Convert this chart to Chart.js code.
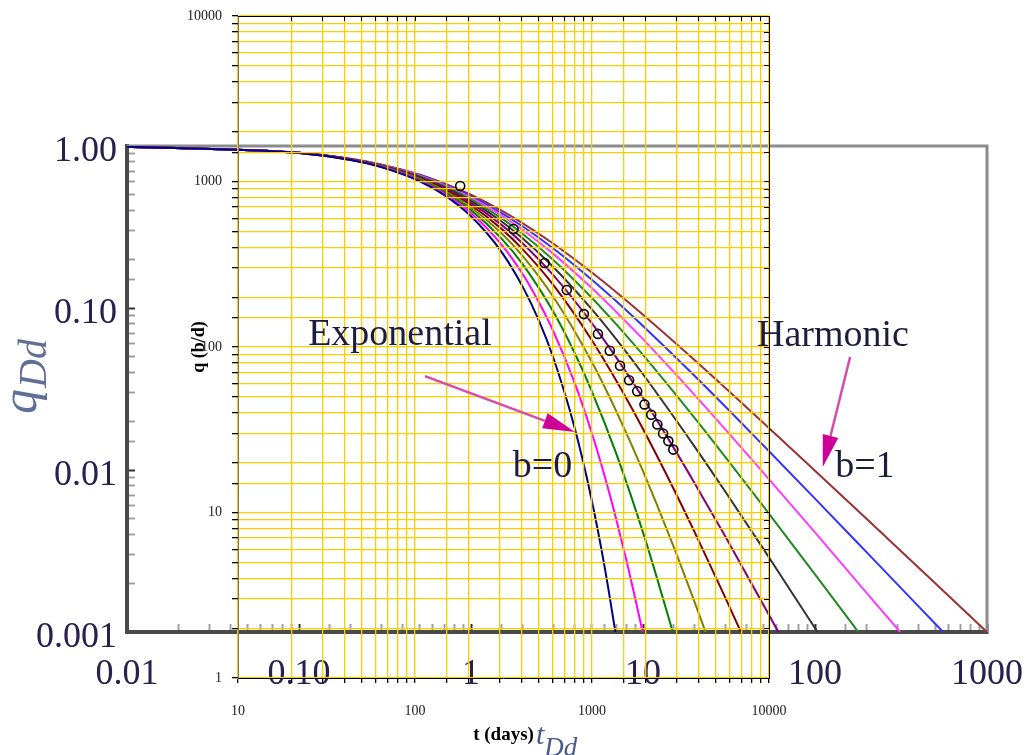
<!DOCTYPE html>
<html>
<head>
<meta charset="utf-8">
<title>Arps decline type curves</title>
<script src="https://cdn.jsdelivr.net/npm/chart.js@4.4.1/dist/chart.umd.min.js"></script>
<style>
  html, body { margin: 0; padding: 0; background: #fff; overflow: hidden; }
  #wrap { position: relative; width: 1030px; height: 755px; }
  #wrap canvas { position: absolute; left: 0; top: 0; }
</style>
</head>
<body>
<div id="wrap">
  <canvas id="typeCurveChart" width="1030" height="755"></canvas>
  <canvas id="wellDataChart" width="1030" height="755"></canvas>
</div>
<script>
// ---- type curves (dimensionless tDd vs qDd) ----
const bValues = [0, 0.1, 0.2, 0.3, 0.4, 0.5, 0.6, 0.7, 0.8, 0.9, 1.0];
const curveColors = ['#000080', '#ff00ff', '#008000', '#808000', '#800000', '#800080',
                     '#333333', '#1f8a1f', '#ff3cff', '#3333ff', '#993333'];

const tDd_b00 = [0.01, 0.1, 0.2, 0.3, 0.5, 0.7, 1, 1.5, 2, 2.5, 3, 4, 5, 6, 6.91];
const qDd_b00 = [0.990, 0.905, 0.819, 0.741, 0.607, 0.497, 0.368, 0.223, 0.135, 0.0821, 0.0498, 0.0183, 0.00674, 0.00248, 0.001];
const tDd_b01 = [0.01, 0.1, 0.2, 0.3, 0.5, 0.7, 1, 1.5, 2, 2.5, 3, 4, 5, 6, 7, 8, 9, 9.95];
const qDd_b01 = [0.990, 0.905, 0.820, 0.744, 0.614, 0.508, 0.386, 0.247, 0.1615, 0.107, 0.0725, 0.0346, 0.01734, 0.00909, 0.00493, 0.00278, 0.00162, 0.001];
const tDd_b02 = [0.01, 0.1, 0.2, 0.3, 0.5, 0.7, 1, 1.5, 2, 3, 4, 5, 7, 10, 12, 14.9];
const qDd_b02 = [0.990, 0.906, 0.822, 0.747, 0.621, 0.519, 0.402, 0.269, 0.186, 0.0954, 0.0529, 0.03125, 0.01256, 0.00412, 0.00219, 0.001];
const tDd_b03 = [0.01, 0.1, 0.2, 0.3, 0.5, 0.7, 1, 1.5, 2, 3, 5, 7, 10, 15, 20, 23.1];
const qDd_b03 = [0.990, 0.906, 0.823, 0.750, 0.628, 0.530, 0.417, 0.290, 0.2088, 0.1177, 0.0472, 0.0230, 0.00984, 0.00340, 0.00152, 0.001];
const tDd_b04 = [0.01, 0.1, 0.2, 0.3, 0.5, 0.7, 1, 1.5, 2, 3, 5, 7, 10, 15, 20, 30, 37.1];
const qDd_b04 = [0.990, 0.907, 0.825, 0.753, 0.634, 0.539, 0.431, 0.309, 0.230, 0.1393, 0.0642, 0.0355, 0.01789, 0.00772, 0.00412, 0.00164, 0.001];
const tDd_b05 = [0.01, 0.1, 0.2, 0.3, 0.5, 0.7, 1, 1.5, 2, 3, 5, 7, 10, 15, 20, 30, 50, 61.2];
const qDd_b05 = [0.990, 0.907, 0.826, 0.756, 0.640, 0.549, 0.444, 0.327, 0.25, 0.16, 0.0816, 0.0494, 0.0278, 0.01384, 0.00826, 0.00391, 0.00148, 0.001];
const tDd_b06 = [0.01, 0.1, 0.2, 0.3, 0.5, 0.7, 1, 1.5, 2, 3, 5, 7, 10, 20, 30, 50, 70, 103.5];
const qDd_b06 = [0.990, 0.907, 0.828, 0.759, 0.646, 0.557, 0.457, 0.343, 0.2687, 0.1798, 0.0992, 0.0641, 0.0390, 0.0139, 0.00739, 0.00327, 0.00189, 0.001];
const tDd_b07 = [0.01, 0.1, 0.2, 0.3, 0.5, 0.7, 1, 1.5, 2, 3, 5, 7, 10, 20, 30, 50, 100, 150, 178.4];
const qDd_b07 = [0.990, 0.908, 0.829, 0.762, 0.651, 0.566, 0.469, 0.3586, 0.2863, 0.1986, 0.1166, 0.0792, 0.0513, 0.0209, 0.01208, 0.00598, 0.00227, 0.00128, 0.001];
const tDd_b08 = [0.01, 0.1, 0.2, 0.3, 0.5, 0.7, 1, 1.5, 2, 3, 5, 7, 10, 20, 50, 100, 200, 312.7];
const qDd_b08 = [0.990, 0.908, 0.831, 0.764, 0.657, 0.574, 0.480, 0.373, 0.3029, 0.2166, 0.1337, 0.0945, 0.0642, 0.0290, 0.00964, 0.00412, 0.00174, 0.001];
const tDd_b09 = [0.01, 0.1, 0.2, 0.3, 0.5, 0.7, 1, 1.5, 2, 3, 5, 7, 10, 20, 50, 100, 200, 400, 555.8];
const qDd_b09 = [0.990, 0.909, 0.832, 0.767, 0.662, 0.581, 0.490, 0.387, 0.3185, 0.2337, 0.1505, 0.1099, 0.0774, 0.0380, 0.01421, 0.00666, 0.00310, 0.00144, 0.001];
const tDd_b10 = [0.01, 0.1, 0.2, 0.3, 0.5, 0.7, 1, 1.5, 2, 3, 5, 7, 10, 20, 50, 100, 200, 500, 999];
const qDd_b10 = [0.990, 0.909, 0.833, 0.769, 0.667, 0.588, 0.5, 0.4, 0.333, 0.25, 0.1667, 0.125, 0.0909, 0.0476, 0.0196, 0.0099, 0.00498, 0.002, 0.001];

const curveT = [tDd_b00, tDd_b01, tDd_b02, tDd_b03, tDd_b04, tDd_b05, tDd_b06, tDd_b07, tDd_b08, tDd_b09, tDd_b10];
const curveQ = [qDd_b00, qDd_b01, qDd_b02, qDd_b03, qDd_b04, qDd_b05, qDd_b06, qDd_b07, qDd_b08, qDd_b09, qDd_b10];

// outer (dimensionless) axis tick labels
const tDdTickValues = [0.01, 0.1, 1, 10, 100, 1000];
const tDdTickLabels = ['0.01', '0.10', '1', '10', '100', '1000'];
const qDdTickValues = [1, 0.1, 0.01, 0.001];
const qDdTickLabels = ['1.00', '0.10', '0.01', '0.001'];

// ---- well data overlay (t in days, q in b/d) ----
const wellDays = [180, 360, 540, 720, 900, 1080, 1260, 1440, 1620, 1800, 1980, 2160, 2340, 2520, 2700, 2880];
const wellRate = [940, 516, 322, 221, 158, 120, 95, 77, 63, 54, 45, 39, 34, 30, 27, 24];
const dayTickValues = [10, 100, 1000, 10000];
const dayTickLabels = ['10', '100', '1000', '10000'];
const rateTickValues = [1, 10, 100, 1000, 10000];
const rateTickLabels = ['1', '10', '100', '1000', '10000'];

// annotations, placed in tDd / qDd units
const noteTexts = ['Exponential', 'b=0', 'Harmonic', 'b=1'];
const noteAt = [[0.113, 0.059], [1.75, 0.00905], [46, 0.0584], [131, 0.00905]];
const arrowFrom = [[0.54, 0.038], [160, 0.0498]];
const arrowTo = [[4.02, 0.01716], [111, 0.01043]];

const SERIF = "'Liberation Serif', 'DejaVu Serif', 'Times New Roman', serif";
const GRID_YELLOW = '#ffcc00';
const LABEL_INK = '#2a2050';
const ARROW_INK = '#cc0099';

function isDecade(v) {
  const l = Math.log10(v);
  return Math.abs(l - Math.round(l)) < 1e-6;
}

// returns a tick callback that only labels the listed values
function labelPicker(values, labels) {
  return (v) => {
    const i = values.findIndex(d => Math.abs(d - v) / d < 1e-6);
    return i < 0 ? '' : labels[i];
  };
}

/**
 * Gray top/right border of the type-curve frame
 */
const outerFrame = {
  id: 'outerFrame',
  beforeDatasetsDraw(chart) {
    const { ctx, chartArea: a } = chart;
    ctx.save();
    ctx.strokeStyle = '#8c8c8c';
    ctx.lineWidth = 3;
    ctx.beginPath();
    ctx.moveTo(a.left, a.top);
    ctx.lineTo(a.right, a.top);
    ctx.lineTo(a.right, a.bottom);
    ctx.stroke();
    ctx.restore();
  }
};

const typeCurveChart = new Chart(document.getElementById('typeCurveChart'), {
  type: 'line',
  data: {
    datasets: bValues.map((b, i) => ({
      label: 'b=' + b,
      data: curveT[i].map((t, k) => ({ x: t, y: curveQ[i][k] })),
      borderColor: curveColors[i],
      borderWidth: 2,
      pointRadius: 0,
      fill: false,
      cubicInterpolationMode: 'monotone'
    }))
  },
  options: {
    responsive: false,
    animation: false,
    events: [],
    layout: { padding: { left: 0, top: 146, right: 43, bottom: 0 } },
    plugins: { legend: { display: false }, tooltip: { enabled: false } },
    scales: {
      x: {
        type: 'logarithmic',
        min: 0.01,
        max: 1000,
        border: { color: '#4a4a4a', width: 4 },
        grid: {
          drawOnChartArea: false,
          tickLength: -8,
          tickWidth: 2,
          tickColor: (c) => (c.tick && isDecade(c.tick.value)) ? '#333' : '#a0a0a0'
        },
        ticks: {
          autoSkip: false,
          maxRotation: 0,
          padding: 29,
          color: LABEL_INK,
          font: { family: SERIF, size: 36 },
          callback: labelPicker(tDdTickValues, tDdTickLabels)
        },
        afterFit: (s) => { s.height = 123; s.paddingLeft = 0; s.paddingRight = 0; }
      },
      y: {
        type: 'logarithmic',
        min: 0.001,
        max: 1,
        border: { color: '#4a4a4a', width: 4 },
        grid: {
          drawOnChartArea: false,
          tickLength: -8,
          tickWidth: 2,
          tickColor: (c) => (c.tick && isDecade(c.tick.value)) ? '#333' : '#a0a0a0'
        },
        ticks: {
          autoSkip: false,
          padding: 18,
          labelOffset: 6,
          color: LABEL_INK,
          font: { family: SERIF, size: 36 },
          callback: labelPicker(qDdTickValues, qDdTickLabels)
        },
        afterFit: (s) => { s.width = 127; s.paddingTop = 0; s.paddingBottom = 0; }
      }
    }
  },
  plugins: [outerFrame]
});

function drawArrow(ctx, x1, y1, x2, y2) {
  const ang = Math.atan2(y2 - y1, x2 - x1);
  const cos = Math.cos(ang), sin = Math.sin(ang);
  const headLen = 32, headW = 8;
  const bx = x2 - headLen * cos, by = y2 - headLen * sin;
  ctx.strokeStyle = '#d64bab';
  ctx.lineWidth = 2.5;
  ctx.beginPath();
  ctx.moveTo(x1, y1);
  ctx.lineTo(bx, by);
  ctx.stroke();
  ctx.fillStyle = ARROW_INK;
  ctx.beginPath();
  ctx.moveTo(x2, y2);
  ctx.lineTo(bx + headW * sin, by - headW * cos);
  ctx.lineTo(bx - headW * sin, by + headW * cos);
  ctx.closePath();
  ctx.fill();
}

/**
 * Text notes, arrows and the dimensionless axis titles, drawn on top
 */
const annotationLayer = {
  id: 'annotationLayer',
  afterDraw(chart) {
    const ctx = chart.ctx;
    const sx = typeCurveChart.scales.x, sy = typeCurveChart.scales.y;
    ctx.save();

    arrowFrom.forEach((p, i) => {
      drawArrow(ctx, sx.getPixelForValue(p[0]), sy.getPixelForValue(p[1]),
        sx.getPixelForValue(arrowTo[i][0]), sy.getPixelForValue(arrowTo[i][1]));
    });

    ctx.fillStyle = '#1c1c3c';
    ctx.font = '38px ' + SERIF;
    ctx.textBaseline = 'alphabetic';
    ctx.textAlign = 'left';
    noteTexts.forEach((txt, i) => {
      ctx.fillText(txt, sx.getPixelForValue(noteAt[i][0]), sy.getPixelForValue(noteAt[i][1]));
    });

    // q_Dd, rotated, left of the frame
    ctx.save();
    ctx.translate(36, 414);
    ctx.rotate(-Math.PI / 2);
    ctx.fillStyle = '#5f6f96';
    ctx.font = 'italic 50px ' + SERIF;
    ctx.fillText('q', 0, 0);
    const qw = ctx.measureText('q').width;
    ctx.font = 'italic 40px ' + SERIF;
    ctx.fillText('Dd', qw + 1, 10);
    ctx.restore();

    // t_Dd next to the days title
    ctx.fillStyle = '#4a5a8a';
    ctx.font = 'italic 30px ' + SERIF;
    ctx.fillText('t', 536, 744);
    const tw = ctx.measureText('t').width;
    ctx.font = 'italic 27px ' + SERIF;
    ctx.fillText('Dd', 536 + tw, 756);

    ctx.restore();
  }
};

const wellDataChart = new Chart(document.getElementById('wellDataChart'), {
  type: 'scatter',
  data: {
    datasets: [{
      label: 'well data',
      data: wellDays.map((t, i) => ({ x: t, y: wellRate[i] })),
      pointStyle: 'circle',
      pointRadius: 4.5,
      pointBorderWidth: 1.6,
      pointBorderColor: '#000',
      pointBackgroundColor: 'rgba(0,0,0,0)',
      showLine: false
    }]
  },
  options: {
    responsive: false,
    animation: false,
    events: [],
    layout: { padding: { left: 185, top: 16, right: 261, bottom: 0 } },
    plugins: { legend: { display: false }, tooltip: { enabled: false } },
    scales: {
      x: {
        type: 'logarithmic',
        min: 10,
        max: 10000,
        position: 'bottom',
        border: { color: '#000', width: 1 },
        grid: { color: GRID_YELLOW, lineWidth: 1.3, tickColor: '#000', tickLength: 5 },
        ticks: {
          autoSkip: false,
          maxRotation: 0,
          padding: 20,
          color: '#222',
          font: { family: SERIF, size: 14 },
          callback: labelPicker(dayTickValues, dayTickLabels)
        },
        title: {
          display: true,
          text: 't (days)',
          color: '#000',
          font: { family: SERIF, size: 19, weight: 'bold' },
          padding: { top: 0, bottom: 9 }
        },
        afterFit: (s) => { s.height = 77; s.paddingLeft = 0; s.paddingRight = 0; }
      },
      y: {
        type: 'logarithmic',
        min: 1,
        max: 10000,
        position: 'left',
        border: { color: '#777', width: 1 },
        grid: { color: GRID_YELLOW, lineWidth: 1.3, tickColor: '#000', tickLength: 6 },
        ticks: {
          autoSkip: false,
          padding: 10,
          color: '#222',
          font: { family: SERIF, size: 14 },
          callback: labelPicker(rateTickValues, rateTickLabels)
        },
        title: {
          display: true,
          text: 'q (b/d)',
          color: '#000',
          font: { family: SERIF, size: 18, weight: 'bold' },
          padding: { top: 4, bottom: 0 }
        },
        afterFit: (s) => { s.width = 53; s.paddingTop = 0; s.paddingBottom = 0; }
      },
      xTop: {
        type: 'logarithmic',
        min: 10,
        max: 10000,
        position: 'top',
        border: { color: '#000', width: 1 },
        grid: { drawOnChartArea: false, tickLength: -5, tickColor: '#000' },
        ticks: { display: false },
        afterFit: (s) => { s.height = 0; }
      },
      yRight: {
        type: 'logarithmic',
        min: 1,
        max: 10000,
        position: 'right',
        border: { color: '#000', width: 1 },
        grid: { drawOnChartArea: false, tickLength: -5, tickColor: '#000' },
        ticks: { display: false },
        afterFit: (s) => { s.width = 0; }
      }
    }
  },
  plugins: [annotationLayer]
});
</script>
</body>
</html>
